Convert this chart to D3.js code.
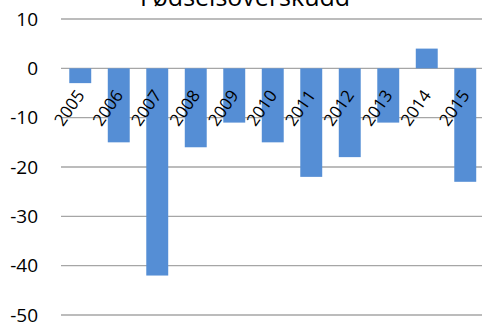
<!DOCTYPE html>
<html><head><meta charset="utf-8">
<script src="https://cdn.jsdelivr.net/npm/d3@7"></script>
<style>html,body{margin:0;padding:0;background:#fff;overflow:hidden}</style>
</head><body>
<svg id="c" width="482" height="327"></svg>
<script>
const title = "Fødselsoverskudd";
const years = ["2005","2006","2007","2008","2009","2010","2011","2012","2013","2014","2015"];
const values = [-3,-15,-42,-16,-11,-15,-22,-18,-11,4,-23];
const yTicks = [10,0,-10,-20,-30,-40,-50];

(function(){
const svg = d3.select("#c");
const mLeft = 61, mRight = 484.5, mTop = 19, mBottom = 315;
const y = d3.scaleLinear().domain([-50,10]).range([mBottom, mTop]);
const x = d3.scaleBand().domain(years).range([mLeft, mRight]).paddingInner(0.43).paddingOuter(0.215);

const font = "'Open Sans', sans-serif";

// gridlines
svg.append("g").selectAll("line").data(yTicks).join("line")
  .attr("x1", mLeft).attr("x2", 482)
  .attr("y1", d => y(d)).attr("y2", d => y(d))
  .attr("stroke", "#a6a6a6").attr("stroke-width", 1.4);

// y labels
svg.append("g").selectAll("text").data(yTicks).join("text")
  .attr("x", 38).attr("y", d => y(d)).attr("dy", "0.35em")
  .attr("text-anchor", "end")
  .style("font-family", font).style("font-size", "19px").attr("fill", "#000")
  .text(d => d);

// bars
svg.append("g").selectAll("rect").data(values).join("rect")
  .attr("x", (d,i) => x(years[i]))
  .attr("width", x.bandwidth())
  .attr("y", d => y(Math.max(0,d)))
  .attr("height", d => Math.abs(y(d) - y(0)))
  .attr("fill", "#558ed5");

// x labels
svg.append("g").selectAll("text").data(years).join("text")
  .attr("transform", d => `translate(${x(d) + x.bandwidth()/2 + 5},${y(0) + 27}) rotate(-55)`)
  .attr("text-anchor", "end")
  .style("font-family", font).style("font-size", "17px").attr("fill", "#000")
  .text(d => d);

// title
svg.append("text").attr("x", 245).attr("y", 6)
  .attr("text-anchor", "middle")
  .style("font-family", font).style("font-size", "25px").attr("fill", "#000")
  .text(title);
})();
</script>
</body></html>
